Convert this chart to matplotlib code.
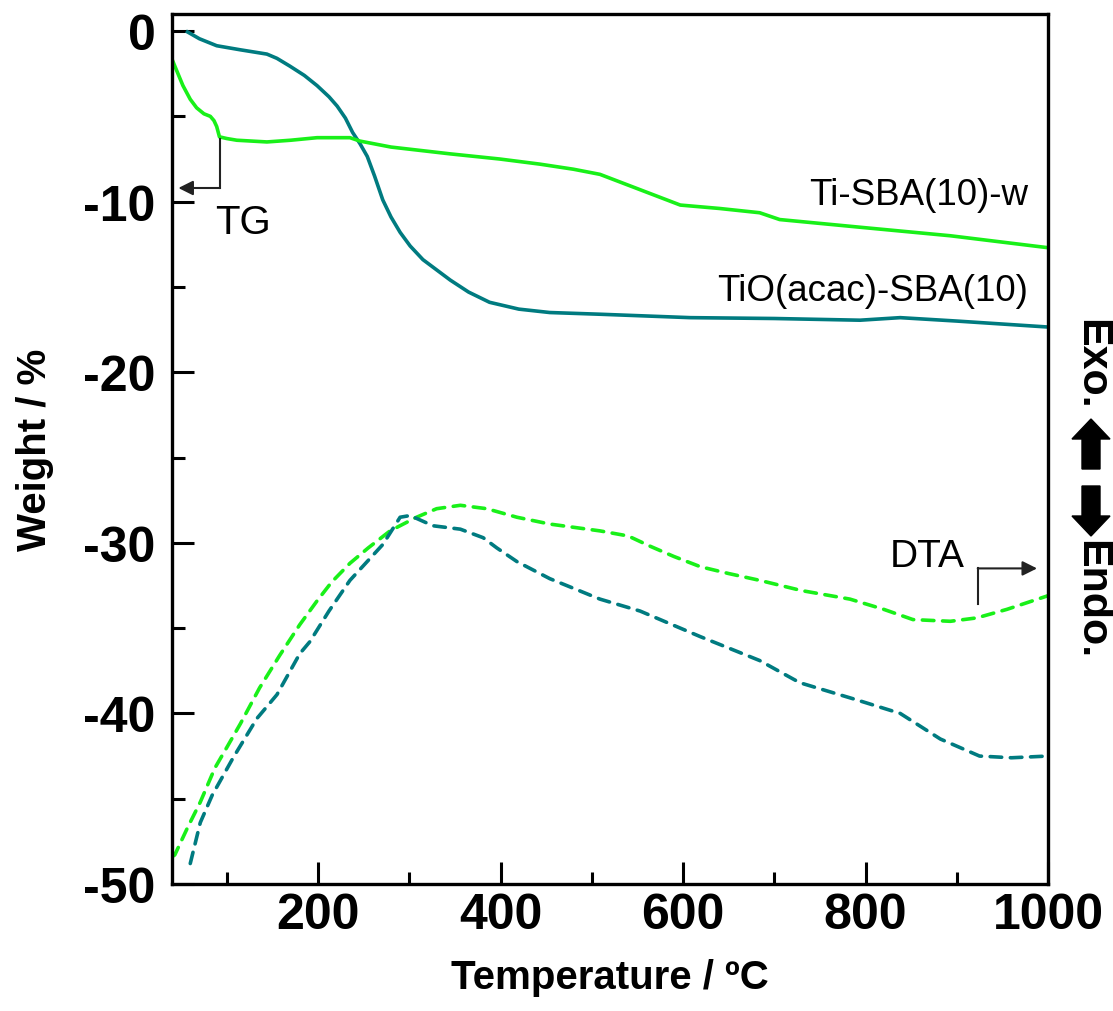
import matplotlib
matplotlib.use("Agg")
import matplotlib.pyplot as plt
from matplotlib.patches import Polygon
from matplotlib.ticker import MultipleLocator, FixedLocator

plt.rcParams['font.family'] = ['Liberation Sans', 'DejaVu Sans']
plt.rcParams['axes.unicode_minus'] = False

# ---- data ----
tg_teal_x = [57, 70, 89, 115, 144, 155, 169, 185, 199, 212, 221, 230, 238, 246, 254, 262, 271, 280, 290, 301, 315, 330, 345, 365, 388, 420, 454, 509, 608, 700, 794, 838, 900, 1000]
tg_teal_y = [-0.05, -0.45, -0.86, -1.1, -1.35, -1.6, -2.05, -2.6, -3.2, -3.85, -4.4, -5.1, -5.95, -6.6, -7.35, -8.5, -9.9, -10.9, -11.8, -12.6, -13.4, -14.0, -14.6, -15.3, -15.9, -16.3, -16.5, -16.6, -16.8, -16.85, -16.95, -16.8, -17.0, -17.35]

tg_green_x = [40, 45, 52, 60, 67, 75, 82, 86, 89, 92, 100, 111, 144, 170, 199, 235, 246, 280, 345, 399, 443, 480, 509, 553, 597, 640, 684, 706, 794, 893, 1000]
tg_green_y = [-1.65, -2.3, -3.2, -4.0, -4.5, -4.85, -5.0, -5.25, -5.6, -6.2, -6.3, -6.4, -6.5, -6.4, -6.25, -6.25, -6.45, -6.8, -7.2, -7.5, -7.8, -8.1, -8.4, -9.3, -10.2, -10.4, -10.65, -11.05, -11.5, -12.0, -12.7]

dta_green_x = [40, 43, 57, 71, 87, 100, 115, 136, 158, 180, 199, 215, 235, 255, 279, 308, 330, 356, 385, 418, 454, 509, 540, 564, 590, 619, 650, 684, 730, 783, 820, 852, 893, 922, 955, 1000]
dta_green_y = [-48.4, -48.3, -46.7, -45.2, -43.2, -42.0, -40.6, -38.5, -36.6, -34.8, -33.4, -32.3, -31.2, -30.3, -29.3, -28.5, -28.0, -27.8, -28.0, -28.5, -28.9, -29.3, -29.6, -30.2, -30.8, -31.4, -31.8, -32.2, -32.8, -33.3, -33.9, -34.5, -34.6, -34.4, -33.9, -33.1]

dta_teal_x = [60, 71, 84, 107, 133, 155, 180, 191, 212, 235, 271, 290, 301, 326, 356, 381, 396, 418, 454, 509, 553, 619, 684, 728, 790, 838, 882, 925, 960, 1000]
dta_teal_y = [-48.8, -46.4, -44.8, -42.6, -40.3, -38.9, -36.5, -35.8, -34.0, -32.2, -30.1, -28.5, -28.4, -29.0, -29.2, -29.7, -30.3, -31.1, -32.1, -33.3, -34.0, -35.5, -36.9, -38.2, -39.2, -40.0, -41.5, -42.5, -42.6, -42.5]

x_ticks = [200, 400, 600, 800, 1000]
y_ticks = [0, -10, -20, -30, -40, -50]
y_ticklabels = ['0', '-10', '-20', '-30', '-40', '-50']

TEAL = '#007b80'
GREEN = '#19f019'

W, H = 1113, 1012
fig = plt.figure(figsize=(W / 100, H / 100), dpi=100)
ax = fig.add_axes([172 / W, 1 - 885 / H, (1048 - 172) / W, (885 - 15) / H])

lw = 2.6
ax.plot(tg_teal_x, tg_teal_y, color=TEAL, lw=lw)
ax.plot(tg_green_x, tg_green_y, color=GREEN, lw=lw)
ax.plot(dta_green_x, dta_green_y, color=GREEN, lw=lw, dashes=(3.2, 2.4), dash_capstyle='round')
ax.plot(dta_teal_x, dta_teal_y, color=TEAL, lw=lw, dashes=(3.2, 2.4), dash_capstyle='round')

ax.set_xlim(40, 1000)
ax.set_ylim(-50, 1)
ax.xaxis.set_major_locator(FixedLocator(x_ticks))
ax.xaxis.set_minor_locator(MultipleLocator(100))
ax.set_yticks(y_ticks)
ax.set_yticklabels(y_ticklabels)
ax.yaxis.set_minor_locator(MultipleLocator(5))
ax.tick_params(which='both', direction='in', top=False, right=False, width=2.2)
ax.tick_params(which='major', length=16)
ax.tick_params(which='minor', length=9)
ax.tick_params(axis='x', which='major', labelsize=36, pad=6)
ax.tick_params(axis='y', which='major', labelsize=36, pad=12)
for lab in ax.get_xticklabels() + ax.get_yticklabels():
    lab.set_fontweight('bold')
for s in ax.spines.values():
    s.set_linewidth(2.4)

ax.set_xlabel('Temperature / ºC', fontsize=29, fontweight='bold', labelpad=14)
ax.set_ylabel('Weight / %', fontsize=29, fontweight='bold', labelpad=21)

# annotations
ax.text(978, -9.6, 'Ti-SBA(10)-w', fontsize=26.5, ha='right', va='center')
ax.text(978, -15.2, 'TiO(acac)-SBA(10)', fontsize=26.5, ha='right', va='center')
ax.text(118, -11.2, 'TG', fontsize=29, ha='center', va='center')
ax.text(868, -30.8, 'DTA', fontsize=28, ha='center', va='center')

acol = '#222222'
ax.plot([92.6, 92.6], [-6.35, -9.2], color=acol, lw=1.5)
ax.annotate('', xy=(47, -9.2), xytext=(92.6, -9.2),
            arrowprops=dict(arrowstyle='-|>', lw=1.5, color=acol, mutation_scale=22, shrinkA=0, shrinkB=0))
ax.plot([923, 923], [-33.6, -31.5], color=acol, lw=1.5)
ax.annotate('', xy=(988, -31.5), xytext=(923, -31.5),
            arrowprops=dict(arrowstyle='-|>', lw=1.5, color=acol, mutation_scale=22, shrinkA=0, shrinkB=0))

# right side Exo./Endo. label with block arrows
ov = fig.add_axes([0, 0, 1, 1], facecolor='none')
ov.set_xlim(0, W)
ov.set_ylim(H, 0)
ov.axis('off')
ov.text(1091, 364, 'Exo.', rotation=-90, fontsize=31, fontweight='bold', ha='center', va='center')
ov.text(1091, 600, 'Endo.', rotation=-90, fontsize=31, fontweight='bold', ha='center', va='center')
cx = 1091
up = [(cx, 420), (cx + 19, 440), (cx + 9, 440), (cx + 9, 470), (cx - 9, 470), (cx - 9, 440), (cx - 19, 440)]
dn = [(cx, 537), (cx + 19, 517), (cx + 9, 517), (cx + 9, 487), (cx - 9, 487), (cx - 9, 517), (cx - 19, 517)]
ov.add_patch(Polygon(up, closed=True, color='black'))
ov.add_patch(Polygon(dn, closed=True, color='black'))

fig.savefig('out.png', dpi=100)
